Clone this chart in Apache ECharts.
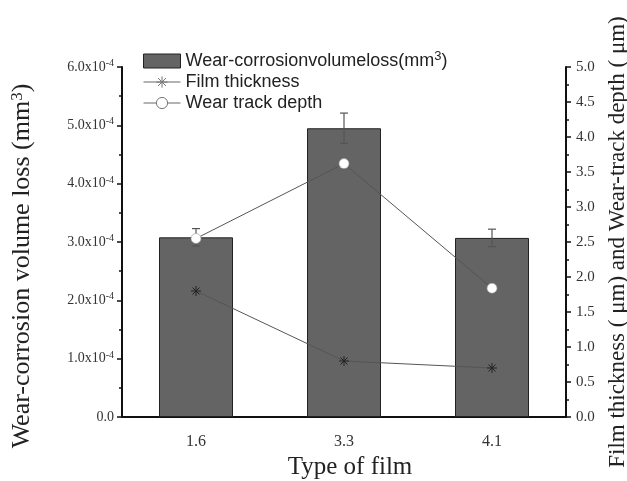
<!DOCTYPE html>
<html>
<head>
<meta charset="utf-8">
<script src="https://cdn.jsdelivr.net/npm/echarts@6/dist/echarts.min.js"></script>
<style>
  html, body { margin: 0; padding: 0; background: #fff; overflow: hidden; }
  #chart { width: 627px; height: 481px; }
</style>
</head>
<body>
<div id="chart"></div>
<script>
// Film types (thickness class) on the category axis
const categories = ['1.6', '3.3', '4.1'];
// Wear-corrosion volume loss, mm^3
const volumeLoss = [3.08e-4, 4.95e-4, 3.07e-4];
// Standard error of the volume loss, mm^3
const volumeLossErr = [0.15e-4, 0.26e-4, 0.15e-4];
// Film thickness, µm
const filmThickness = [1.80, 0.80, 0.70];
// Wear track depth, µm
const wearTrackDepth = [2.55, 3.62, 1.84];

const serif = '"Liberation Serif", "Times New Roman", serif';
const sans = '"Liberation Sans", Arial, sans-serif';

// eight-spoke asterisk marker, drawn as strokes
const asterisk = 'path://M0,-5L0,5M-5,0L5,0M-3.5,-3.5L3.5,3.5M-3.5,3.5L3.5,-3.5';

const chart = echarts.init(document.getElementById('chart'));

const errData = categories.map((c, i) => [i, volumeLoss[i] - volumeLossErr[i], volumeLoss[i] + volumeLossErr[i]]);

chart.setOption({
  animation: false,
  grid: { left: 122, right: 61, top: 67, bottom: 64, containLabel: false, outerBoundsMode: 'none' },
  legend: {
    orient: 'vertical',
    left: 138,
    top: 45,
    itemGap: 3,
    itemWidth: 37,
    itemHeight: 14,
    lineStyle: { width: 1, color: '#666' },
    textStyle: {
      fontFamily: sans, fontSize: 18, color: '#222',
      rich: { s: { fontFamily: sans, fontSize: 13, verticalAlign: 'top', padding: [0, 0, 9, 0], color: '#222' } }
    },
    formatter: function (name) {
      if (name === 'loss') return 'Wear-corrosionvolumeloss(mm{s|3})';
      return name;
    },
    data: [
      { name: 'loss', icon: 'rect', itemStyle: { color: '#646464', borderColor: '#222', borderWidth: 1 } },
      { name: 'Film thickness', itemStyle: { color: '#777', borderColor: '#777', borderWidth: 1 } },
      { name: 'Wear track depth', itemStyle: { color: '#fff', borderColor: '#777', borderWidth: 1 } }
    ]
  },
  xAxis: {
    type: 'category',
    data: categories,
    name: 'Type of film',
    nameLocation: 'middle',
    nameGap: 38,
    nameTextStyle: { fontFamily: serif, fontSize: 25, color: '#222', padding: [0, 0, 0, 12] },
    axisLine: { lineStyle: { color: '#111', width: 2 } },
    axisTick: { alignWithLabel: true, length: 5, lineStyle: { width: 2, color: '#111' } },
    axisLabel: { fontFamily: serif, fontSize: 16, color: '#333', margin: 17 }
  },
  yAxis: [
    {
      type: 'value',
      min: 0, max: 0.0006, interval: 0.0001,
      name: 'Wear-corrosion volume loss (mm{s|3})',
      nameLocation: 'middle',
      nameGap: 86,
      nameRotate: 90,
      nameTextStyle: {
        fontFamily: serif, fontSize: 26, color: '#222', padding: [0, 48, 0, 0],
        rich: { s: { fontFamily: serif, fontSize: 17, verticalAlign: 'top', padding: [0, 0, 10, 0], color: '#222' } }
      },
      splitLine: { show: false },
      axisLine: { show: true, lineStyle: { color: '#111', width: 2 } },
      axisTick: { show: true, length: 5, lineStyle: { width: 1.5, color: '#111' } },
      minorTick: { show: true, splitNumber: 2, length: 3, lineStyle: { color: '#111', width: 1.5 } },
      axisLabel: {
        fontFamily: serif, fontSize: 14, color: '#333', margin: 8,
        formatter: function (v) {
          if (v === 0) return '0.0';
          return (v * 1e4).toFixed(1) + 'x10{s|-4}';
        },
        rich: { s: { fontFamily: serif, fontSize: 10, verticalAlign: 'top', padding: [0, 0, 7, 0], color: '#333' } }
      }
    },
    {
      type: 'value',
      min: 0, max: 5, interval: 0.5,
      position: 'right',
      name: 'Film thickness ( \u03bcm) and Wear-track depth ( \u03bcm)',
      nameLocation: 'middle',
      nameGap: 40,
      nameRotate: 90,
      nameTextStyle: { fontFamily: serif, fontSize: 23, color: '#222' },
      splitLine: { show: false },
      axisLine: { show: true, lineStyle: { color: '#111', width: 2 } },
      axisTick: { show: true, length: 5, lineStyle: { width: 1.5, color: '#111' } },
      minorTick: { show: true, splitNumber: 2, length: 3, lineStyle: { color: '#111', width: 1.5 } },
      axisLabel: {
        fontFamily: serif, fontSize: 15, color: '#333', margin: 10,
        formatter: v => v.toFixed(1)
      }
    }
  ],
  series: [
    {
      name: 'loss',
      type: 'bar',
      data: volumeLoss,
      barWidth: '50%',
      itemStyle: { color: '#646464', borderColor: '#222', borderWidth: 1 },
      z: 2
    },
    {
      name: 'err',
      type: 'custom',
      data: errData,
      z: 3,
      renderItem: function (params, api) {
        const x = api.coord([api.value(0), api.value(1)])[0];
        const lo = api.coord([api.value(0), api.value(1)])[1];
        const hi = api.coord([api.value(0), api.value(2)])[1];
        const w = 4;
        const style = { stroke: '#555', lineWidth: 1.2 };
        return {
          type: 'group',
          children: [
            { type: 'line', shape: { x1: x, y1: lo, x2: x, y2: hi }, style: style },
            { type: 'line', shape: { x1: x - w, y1: lo, x2: x + w, y2: lo }, style: style },
            { type: 'line', shape: { x1: x - w, y1: hi, x2: x + w, y2: hi }, style: style }
          ]
        };
      },
      encode: { x: 0, y: [1, 2] }
    },
    {
      name: 'Film thickness',
      type: 'line',
      yAxisIndex: 1,
      data: filmThickness,
      symbol: asterisk,
      symbolSize: 10,
      lineStyle: { color: '#555', width: 1 },
      itemStyle: { color: '#222', borderColor: '#222', borderWidth: 1 },
      z: 4
    },
    {
      name: 'Wear track depth',
      type: 'line',
      yAxisIndex: 1,
      data: wearTrackDepth,
      symbol: 'circle',
      symbolSize: 10,
      lineStyle: { color: '#555', width: 1 },
      itemStyle: { color: '#fff', borderColor: '#999', borderWidth: 0.6 },
      z: 5
    }
  ]
});
</script>
</body>
</html>
